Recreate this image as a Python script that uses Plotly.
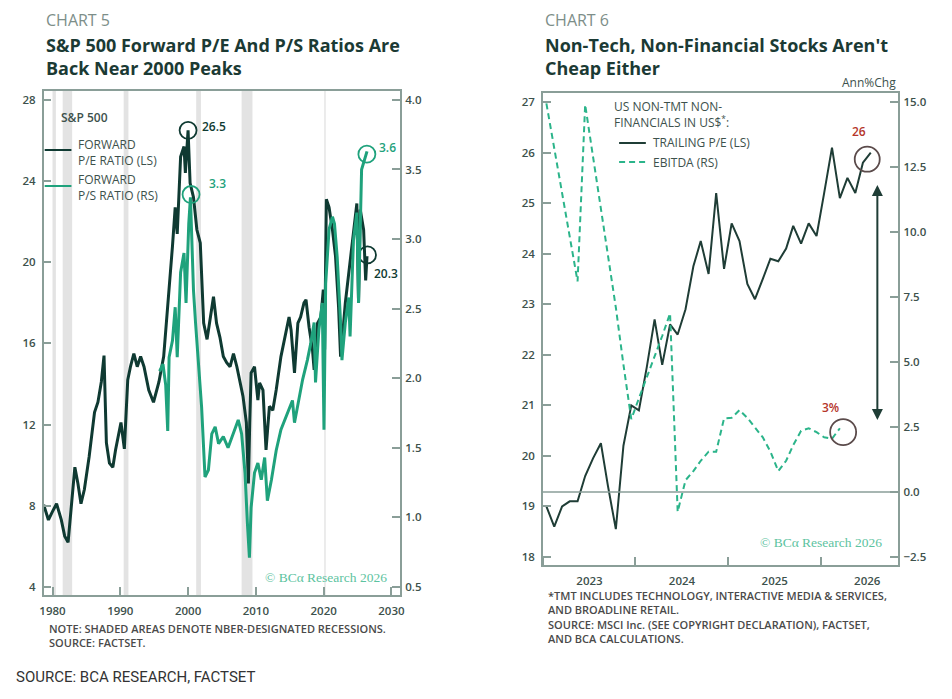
import pandas as pd
import plotly.graph_objects as go

# ---- Chart 5: S&P 500 forward P/E (LS) and forward P/S (RS), decimal years ----
pe_years = [1978.7, 1979.4, 1979.9, 1980.6, 1981.3, 1981.8, 1982.3, 1982.8, 1983.3, 1983.75,
            1984.2, 1984.7, 1985.4, 1986.2, 1986.7, 1987.2, 1987.6, 1987.8, 1987.95, 1988.4,
            1988.9, 1989.3, 1990.1, 1990.6, 1991.1, 1991.5, 1992.0, 1992.5, 1993.0, 1993.5,
            1994.2, 1994.9, 1995.7, 1996.4, 1996.9, 1997.4, 1997.7, 1998.1, 1998.4, 1998.9,
            1999.4, 1999.6, 2000.0, 2000.3, 2000.8, 2001.3, 2001.8, 2002.3, 2002.8, 2003.3,
            2003.75, 2004.2, 2004.7, 2005.2, 2005.7, 2006.2, 2006.7, 2007.2, 2007.6, 2008.1,
            2008.6, 2008.9, 2009.1, 2009.3, 2009.8, 2010.3, 2010.55, 2011.05, 2011.5, 2012.0,
            2012.5, 2013.0, 2013.7, 2014.45, 2014.9, 2015.2, 2015.7, 2016.2, 2016.6, 2017.1,
            2017.4, 2017.85, 2018.35, 2018.6, 2019.1, 2019.6, 2019.95, 2020.15, 2020.4, 2020.8,
            2021.3, 2021.75, 2022.2, 2022.5, 2022.7, 2023.2, 2023.9, 2024.4, 2024.9, 2025.15,
            2025.4, 2025.9, 2026.2, 2026.4]
pe_vals = [8.05, 7.3, 7.65, 8.1, 7.3, 6.5, 6.2, 7.95, 9.9, 9.1,
           8.1, 8.8, 10.4, 12.6, 13.1, 14.1, 15.4, 12.9, 11.1, 10.1,
           9.9, 10.75, 12.1, 10.8, 14.2, 14.85, 15.5, 14.85, 15.35, 14.85,
           13.7, 13.1, 14.1, 15.35, 17.3, 19.5, 20.8, 22.7, 21.4, 25.2,
           25.7, 24.4, 26.5, 23.9, 23.2, 21.6, 20.95, 17.0, 16.2, 17.3,
           18.3, 17.0, 16.3, 15.35, 15.05, 14.85, 15.5, 14.85, 14.2, 13.4,
           12.1, 9.1, 12.1, 14.55, 14.85, 13.2, 14.05, 13.7, 10.75, 12.9,
           12.7, 13.7, 15.35, 16.5, 17.3, 16.65, 14.55, 17.0, 17.3, 18.0,
           18.15, 16.8, 15.7, 14.7, 17.0, 17.3, 18.65, 15.7, 23.1, 22.7,
           21.6, 20.3, 17.8, 15.35, 16.0, 18.0, 20.0, 21.25, 22.9, 18.0,
           22.6, 21.6, 19.1, 20.3]

ps_years = [1995.8, 1996.3, 1996.7, 1997.0, 1997.2, 1997.7, 1998.1, 1998.4, 1998.9, 1999.4,
            1999.7, 2000.1, 2000.35, 2000.8, 2001.1, 2001.6, 2002.0, 2002.5, 2003.0, 2003.5,
            2004.0, 2004.5, 2005.2, 2005.9, 2006.7, 2007.4, 2007.9, 2008.4, 2008.75, 2009.05,
            2009.3, 2009.8, 2010.3, 2010.8, 2011.3, 2011.7, 2012.3, 2013.0, 2013.7, 2014.7,
            2015.4, 2015.7, 2016.2, 2016.9, 2017.6, 2018.1, 2018.6, 2018.8, 2019.3, 2019.8,
            2020.05, 2020.3, 2020.8, 2021.3, 2021.6, 2022.0, 2022.5, 2022.7, 2023.2, 2023.7,
            2023.9, 2024.4, 2024.9, 2025.15, 2025.6, 2026.1, 2026.4]
ps_vals = [2.05, 2.1, 1.95, 1.62, 2.15, 2.27, 2.51, 2.15, 2.76, 2.9,
           2.54, 3.11, 3.3, 2.63, 2.4, 2.04, 1.79, 1.29, 1.34, 1.6,
           1.65, 1.53, 1.58, 1.5, 1.6, 1.7, 1.6, 1.32, 0.96, 0.71,
           1.07, 1.32, 1.39, 1.27, 1.43, 1.12, 1.27, 1.48, 1.63, 1.75,
           1.84, 1.68, 1.82, 1.99, 2.13, 2.25, 2.4, 1.97, 2.35, 2.54,
           1.63, 2.68, 3.07, 3.16, 3.11, 2.87, 2.4, 2.13, 2.4, 2.58,
           2.3, 2.99, 3.19, 2.54, 3.5, 3.59, 3.63]

rec_start = [1980.0, 1981.5, 1990.5, 2001.2, 2007.9, 2020.1]
rec_end = [1980.5, 1982.9, 1991.2, 2001.9, 2009.5, 2020.3]

# ---- Chart 6: US non-TMT non-financials, monthly Jul-2022 .. Jan-2026 ----
months = pd.date_range("2022-07-01", periods=43, freq="MS") + pd.Timedelta(days=14)
trailing_pe = [19.0, 18.6, 19.0, 19.1, 19.1, 19.6, 19.95, 20.25, 19.4, 18.55,
               20.2, 21.0, 20.9, 21.75, 22.7, 21.8, 22.6, 22.4, 22.9, 23.75,
               24.25, 23.6, 25.2, 23.7, 24.6, 24.25, 23.4, 23.1, 23.5, 23.9,
               23.85, 24.1, 24.55, 24.2, 24.6, 24.35, 25.2, 26.1, 25.1, 25.5,
               25.2, 25.8, 26.0]
ebitda = [14.95, 13.2, 11.5, 9.8, 8.1, 14.9, 12.9, 11.0, 9.2, 7.1,
          4.9, 2.8, 3.6, 4.4, 5.2, 6.0, 6.87, -0.76, 0.45, 0.8,
          1.2, 1.55, 1.55, 2.83, 2.85, 3.15, 2.85, 2.5, 2.1, 1.55,
          0.8, 1.2, 1.8, 2.35, 2.45, 2.3, 2.1, 2.05, 2.45]

DARK = "#0f3a32"
GREEN = "#1fa27c"
DASHGREEN = "#2bb48a"
FRAME = "#8a9e98"
TICK = "#3d514c"
TITLE = "#1b3a34"
RED = "#b5352b"
CIRC = "#5b4b4b"
SANS = "Open Sans"
# page body has an 8px margin, so the figure is a bit smaller than the window
W, H = 936, 683


def px(x):
    return (x - 8) / W


def py(y):
    return 1 - (y - 8) / H


tickfont = dict(family=SANS, size=11.5, color=TICK, weight=600)

fig = go.Figure()
fig.add_trace(go.Scatter(x=pe_years, y=pe_vals, xaxis="x", yaxis="y", mode="lines",
                         line=dict(color=DARK, width=3)))
fig.add_trace(go.Scatter(x=ps_years, y=ps_vals, xaxis="x", yaxis="y2", mode="lines",
                         line=dict(color=GREEN, width=3)))
fig.add_trace(go.Scatter(x=months, y=trailing_pe, xaxis="x2", yaxis="y3", mode="lines",
                         line=dict(color="#1f3d36", width=2)))
fig.add_trace(go.Scatter(x=months[:len(ebitda)], y=ebitda, xaxis="x2", yaxis="y4", mode="lines",
                         line=dict(color=DASHGREEN, width=2, dash="6px,4px")))


def circle(xa, ya, x, y, size, color):
    fig.add_trace(go.Scatter(x=[x], y=[y], xaxis=xa, yaxis=ya, mode="markers", hoverinfo="skip",
                             marker=dict(symbol="circle-open", size=size, color=color,
                                         line=dict(width=1.8, color=color))))


# highlighted end points / peaks
circle("x", "y", 2000.0, 26.5, 17, DARK)
circle("x", "y2", 2000.44, 3.32, 17, GREEN)
circle("x", "y2", 2026.38, 3.61, 17, GREEN)
circle("x", "y", 2026.47, 20.36, 17, DARK)
circle("x2", "y3", "2026-01-01", 25.87, 25, CIRC)
circle("x2", "y4", "2025-09-28", 2.30, 26, CIRC)

axis_common = dict(showgrid=False, zeroline=False, showline=True, linecolor=FRAME, linewidth=1.5,
                   ticks="inside", ticklen=8, tickwidth=1.5, tickcolor=FRAME, tickfont=tickfont,
                   ticklabelstandoff=4)

fig.update_layout(
    width=W, height=H, autosize=False, showlegend=False,
    margin=dict(l=0, r=0, t=0, b=0),
    paper_bgcolor="white", plot_bgcolor="white",
    xaxis=dict(domain=[px(40), px(400)], range=[1978.7, 2031.3], anchor="y",
               tickvals=[1980, 1990, 2000, 2010, 2020, 2030], mirror=True, **axis_common),
    yaxis=dict(domain=[py(595), py(91)], range=[3.6, 28.44], anchor="x",
               tickvals=[4, 8, 12, 16, 20, 24, 28], mirror=True, **axis_common),
    yaxis2=dict(overlaying="y", side="right", anchor="x", range=[0.4417, 4.064],
                tickvals=[0.5, 1.0, 1.5, 2.0, 2.5, 3.0, 3.5, 4.0], tickformat=".1f",
                **{**axis_common, "showline": False}),
    xaxis2=dict(domain=[px(544), px(903)], range=["2022-07-01", "2026-05-04"], anchor="y3",
                type="date", tickvals=["2023-01-01", "2024-01-01", "2025-01-01", "2026-01-01"],
                ticktext=["2023", "2024", "2025", "2026"], mirror=True,
                minor=dict(tickmode="array",
                           tickvals=["2022-07-01", "2023-07-01", "2024-07-01", "2025-07-01"],
                           ticks="inside", ticklen=8, tickwidth=1.5, tickcolor=FRAME),
                **{**axis_common, "ticks": "", "ticklen": 0, "ticklabelstandoff": 4}),
    yaxis3=dict(domain=[py(565), py(93)], range=[17.84, 27.18], anchor="x2",
                tickvals=list(range(18, 28)), mirror=True, **axis_common),
    yaxis4=dict(overlaying="y3", side="right", anchor="x2", range=[-2.811, 15.35],
                tickvals=[-2.5, 0, 2.5, 5, 7.5, 10, 12.5, 15], tickformat=".1f",
                **{**axis_common, "showline": False}),
)

# recession shading
for s, e in zip(rec_start, rec_end):
    fig.add_shape(type="rect", xref="x", yref="y domain", x0=s, x1=e, y0=0, y1=1,
                  fillcolor="#e3e3e3", line_width=0, layer="below")

# zero line on chart 6
fig.add_shape(type="line", xref="x2 domain", yref="y4", x0=0, x1=1, y0=0, y1=0,
              line=dict(color=FRAME, width=1.5))

ann = []


def text(x, y, s, size=12, color=TICK, xanchor="left", yanchor="middle", family=SANS,
         weight=None, xref="paper", yref="paper"):
    f = dict(family=family, size=size, color=color)
    if weight:
        f["weight"] = weight
    ann.append(dict(x=x, y=y, xref=xref, yref=yref, text=s, showarrow=False, xanchor=xanchor,
                    yanchor=yanchor, font=f, align="left"))


# value labels
text(2001.8, 26.67, "26.5", 12, DARK, xref="x", yref="y", weight=600)
text(2002.8, 3.40, "3.3", 12, GREEN, xref="x", yref="y2", weight=600)
text(2027.9, 3.66, "3.6", 12, GREEN, xref="x", yref="y2", weight=600)
text(2027.15, 19.43, "20.3", 12, DARK, xref="x", yref="y", weight=600)
text("2025-11-28", 26.41, "26", 12, RED, xanchor="center", xref="x2", yref="y3", weight=600)
text("2025-08-10", 3.25, "3%", 12, RED, xanchor="center", xref="x2", yref="y4", weight=600)

# double arrow
ann.append(dict(x="2026-02-10", y=25.36, ax="2026-02-10", ay=20.51, xref="x2", yref="y3",
                axref="x2", ayref="y3", text=" ", showarrow=True, arrowhead=2, startarrowhead=2,
                arrowside="end+start", arrowsize=1.1, arrowwidth=2, arrowcolor="#1f3d36"))

# titles
text(px(40), py(20), "CHART 5", 16, "#7d8e89")
text(px(40), py(56), "S&P 500 Forward P/E And P/S Ratios Are<br>Back Near 2000 Peaks", 18, TITLE,
     weight="bold")
text(px(544), py(20), "CHART 6", 16, "#7d8e89")
text(px(544), py(56), "Non-Tech, Non-Financial Stocks Aren't<br>Cheap Either", 18, TITLE,
     weight="bold")
text(px(903), py(82), "Ann%Chg", 12, TICK, xanchor="right")

# legends
text(px(55), py(118), "S&P 500", 12, TICK, weight=600)
text(px(73), py(152), "FORWARD<br>P/E RATIO (LS)", 12, TICK)
text(px(73), py(187), "FORWARD<br>P/S RATIO (RS)", 12, TICK)
fig.add_shape(type="line", xref="paper", yref="paper", x0=px(41), x1=px(68), y0=py(150), y1=py(150),
              line=dict(color=DARK, width=2))
fig.add_shape(type="line", xref="paper", yref="paper", x0=px(41), x1=px(68), y0=py(186), y1=py(186),
              line=dict(color=GREEN, width=2))

text(px(614), py(115), "US NON-TMT NON-<br>FINANCIALS IN US$<sup>*</sup>:", 12, TICK)
text(px(653), py(143), "TRAILING P/E (LS)", 12, TICK)
text(px(653), py(162), "EBITDA (RS)", 12, TICK)
fig.add_shape(type="line", xref="paper", yref="paper", x0=px(621), x1=px(648), y0=py(143), y1=py(143),
              line=dict(color="#1f3d36", width=2))
fig.add_shape(type="line", xref="paper", yref="paper", x0=px(621), x1=px(648), y0=py(162), y1=py(162),
              line=dict(color=DASHGREEN, width=2, dash="6px,4px"))

# copyright marks
text(px(389), py(577), "© BCα Research 2026", 13.5, "#5cc3a0", xanchor="right",
     family="Liberation Serif")
text(px(888), py(542), "© BCα Research 2026", 13.5, "#5cc3a0", xanchor="right",
     family="Liberation Serif")

# notes
text(px(43), py(635), "NOTE: SHADED AREAS DENOTE NBER-DESIGNATED RECESSIONS.<br>SOURCE: FACTSET.",
     11, "#4a4a4a", weight=600)
text(px(547), py(617), "*TMT INCLUDES TECHNOLOGY, INTERACTIVE MEDIA & SERVICES,<br>AND BROADLINE RETAIL."
     "<br>SOURCE: MSCI Inc. (SEE COPYRIGHT DECLARATION), FACTSET,<br>AND BCA CALCULATIONS.",
     11, "#4a4a4a", weight=600)
text(px(10), py(677), "SOURCE: BCA RESEARCH, FACTSET", 15, "#333333",
     family="Liberation Sans Narrow, Roboto")

fig.update_layout(annotations=ann)
fig.write_html("out.html")
